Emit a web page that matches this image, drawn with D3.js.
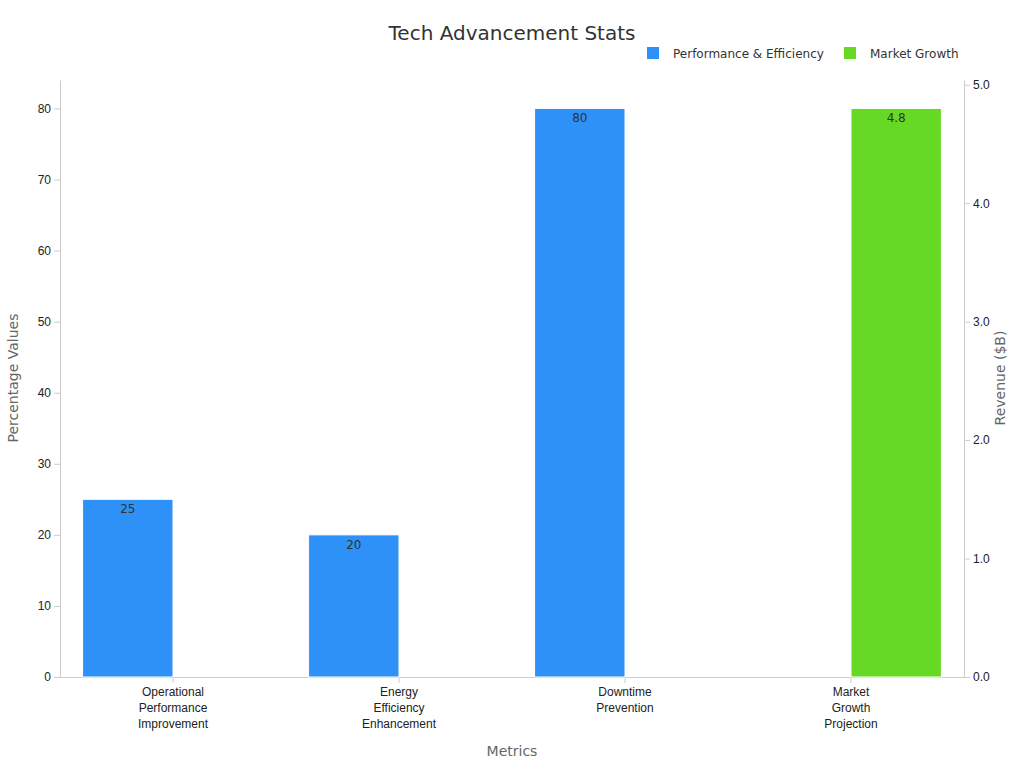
<!DOCTYPE html>
<html>
<head>
<meta charset="utf-8">
<script src="https://cdn.jsdelivr.net/npm/d3@7"></script>
<style>
  body { margin: 0; background: #fff; font-family: "DejaVu Sans", sans-serif; }
  .axis text { font-size: 12px; fill: #222; }
  .axis path, .axis line { stroke: #ccc; }
</style>
</head>
<body>
<div id="chart"></div>
<script>
// chart values
const categories = [["Operational", "Performance", "Improvement"], ["Energy", "Efficiency", "Enhancement"], ["Downtime", "Prevention"], ["Market", "Growth", "Projection"]];
const perfValues = [25, 20, 80, null];
const marketValues = [null, null, null, 4.8];
const leftTicks = [0, 10, 20, 30, 40, 50, 60, 70, 80];
const rightTicks = [0, 1, 2, 3, 4, 5];

const width = 1024;
const height = 768;
const margin = {top: 80, left: 60, right: 60, bottom: 91};

const svg = d3.select("#chart")
    .append("svg")
    .attr("width", width)
    .attr("height", height);

const idx = categories.map(function(d, i) { return i; });

const xScale = d3.scaleBand()
    .domain(idx)
    .range([margin.left, width - margin.right])
    .paddingInner(0.2)
    .paddingOuter(0.1);

const xSub = d3.scaleBand()
    .domain(["perf", "market"])
    .range([0, xScale.bandwidth()]);

const yLeft = d3.scaleLinear()
    .domain([0, 84])
    .range([height - margin.bottom, margin.top]);

const yRight = d3.scaleLinear()
    .domain([0, 5.04])
    .range([height - margin.bottom, margin.top]);

// axes
svg.append("g")
    .attr("class", "axis")
    .attr("transform", `translate(${margin.left},0)`)
    .call(d3.axisLeft(yLeft).tickValues(leftTicks).tickSizeOuter(0));

svg.append("g")
    .attr("class", "axis")
    .attr("transform", `translate(${width - margin.right},0)`)
    .call(d3.axisRight(yRight).tickValues(rightTicks).tickSizeOuter(0));

const xAxis = svg.append("g")
    .attr("class", "axis")
    .attr("transform", `translate(0,${height - margin.bottom})`)
    .call(d3.axisBottom(xScale).tickSizeOuter(0).tickFormat(""));

xAxis.selectAll(".tick").each(function(d) {
    const t = d3.select(this).append("text")
        .attr("y", 10)
        .attr("text-anchor", "middle");
    categories[d].forEach(function(line, j) {
        t.append("tspan").attr("x", 0).attr("dy", j === 0 ? "0.71em" : "16px").text(line);
    });
});

// bars
function drawBars(values, key, scale, color, fmt) {
    const data = values.map(function(v, i) { return {i: i, v: v}; }).filter(function(d) { return d.v !== null; });
    svg.selectAll(`rect.${key}`)
        .data(data)
        .enter()
        .append("rect")
            .attr("class", key)
            .attr("x", function(d) { return xScale(d.i) + xSub(key); })
            .attr("y", function(d) { return scale(d.v); })
            .attr("width", xSub.bandwidth())
            .attr("height", function(d) { return scale(0) - scale(d.v); })
            .attr("fill", color)
            .attr("stroke", "#fff")
            .attr("stroke-width", 1);
    svg.selectAll(`text.${key}`)
        .data(data)
        .enter()
        .append("text")
            .attr("class", key)
            .attr("x", function(d) { return xScale(d.i) + xSub(key) + xSub.bandwidth() / 2; })
            .attr("y", function(d) { return scale(d.v) + 14; })
            .attr("text-anchor", "middle")
            .style("font-size", "12px")
            .style("fill", "#333")
            .text(function(d) { return fmt(d.v); });
}

drawBars(perfValues, "perf", yLeft, "#2d91f8", function(v) { return v; });
drawBars(marketValues, "market", yRight, "#66d924", function(v) { return v.toFixed(1); });

// titles
svg.append("text")
    .attr("x", 512).attr("y", 40)
    .attr("text-anchor", "middle")
    .style("font-size", "20px").style("fill", "#333")
    .text("Tech Advancement Stats");

svg.append("text")
    .attr("x", 512).attr("y", 756)
    .attr("text-anchor", "middle")
    .style("font-size", "14px").style("fill", "#666")
    .text("Metrics");

svg.append("text")
    .attr("transform", "translate(18,378) rotate(-90)")
    .attr("text-anchor", "middle")
    .style("font-size", "14px").style("fill", "#666")
    .text("Percentage Values");

svg.append("text")
    .attr("transform", "translate(1005,378) rotate(-90)")
    .attr("text-anchor", "middle")
    .style("font-size", "14px").style("fill", "#666")
    .text("Revenue ($B)");

// legend
const legend = [["Performance & Efficiency", "#2d91f8", 647], ["Market Growth", "#66d924", 844]];
legend.forEach(function(l) {
    svg.append("rect").attr("x", l[2]).attr("y", 47).attr("width", 12).attr("height", 12).attr("fill", l[1]);
    svg.append("text").attr("x", l[2] + 26).attr("y", 58)
        .style("font-size", "12px").style("fill", "#333").text(l[0]);
});
</script>
</body>
</html>
